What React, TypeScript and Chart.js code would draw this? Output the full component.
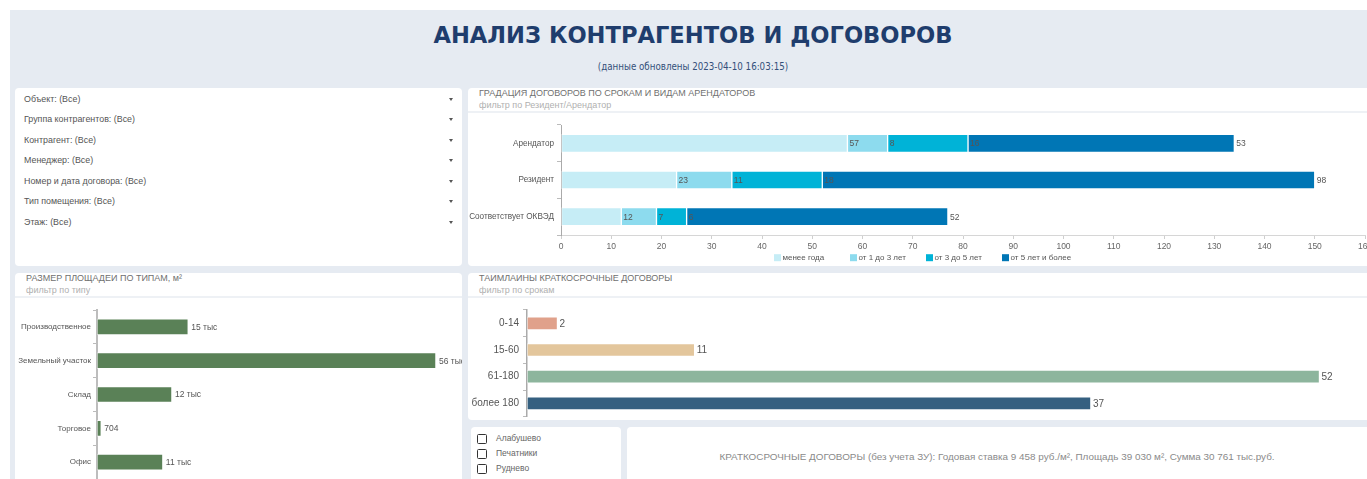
import React, { useEffect, useRef } from "react";
import { Chart, registerables } from "chart.js";

Chart.register(...registerables);

// ---------- DATA ----------
const pageTitle = "АНАЛИЗ КОНТРАГЕНТОВ И ДОГОВОРОВ";
const pageSubtitle = "(данные обновлены 2023-04-10 16:03:15)";

const filterLabels = [
  "Объект: (Все)",
  "Группа контрагентов: (Все)",
  "Контрагент: (Все)",
  "Менеджер: (Все)",
  "Номер и дата договора: (Все)",
  "Тип помещения: (Все)",
  "Этаж: (Все)",
];

const gradCategories = ["Арендатор", "Резидент", "Соответствует ОКВЭД"];
const gradSeriesNames = ["менее года", "от 1 до 3 лет", "от 3 до 5 лет", "от 5 лет и более"];
const lessThanYear = [57, 23, 12];
const oneToThreeYears = [8, 11, 7];
const threeToFiveYears = [16, 18, 6];
const fiveYearsPlus = [53, 98, 52];
const gradAxisMax = 160;
const gradAxisStep = 10;

const areaTypes = ["Производственное", "Земельный участок", "Склад", "Торговое", "Офис"];
const areaValues = [15100, 56100, 12400, 704, 10900];
const areaAxisMax = 60000;

const timelineCategories = ["0-14", "15-60", "61-180", "более 180"];
const timelineValues = [2, 11, 52, 37];
const timelineAxisMax = 55;

const objectNames = ["Алабушево", "Печатники", "Руднево"];
const summaryText =
  "КРАТКОСРОЧНЫЕ ДОГОВОРЫ (без учета ЗУ): Годовая ставка 9 458 руб./м², Площадь 39 030 м², Сумма 30 761 тыс.руб.";

// ---------- STYLE ----------
const FONT = "'Liberation Sans', Arial, sans-serif";
const gradColors = ["#c6edf6", "#8ddbee", "#00b3d7", "#0076b5"];
const areaColor = "#5a8157";
const timelineColors = ["#e0a18b", "#e3c69c", "#8db59d", "#356080"];
const BG = "#e6ebf2";

Chart.defaults.font.family = FONT;

function makeValueLabels(opts: { size: number; color: string; offset: number; formatter?: (v: number) => string }) {
  return {
    id: "valueLabels",
    afterDatasetsDraw(chart: any) {
      const ctx = chart.ctx;
      ctx.save();
      ctx.font = `${opts.size}px ${FONT}`;
      ctx.fillStyle = opts.color;
      ctx.textBaseline = "middle";
      ctx.textAlign = "left";
      chart.data.datasets.forEach((ds: any, di: number) => {
        const meta = chart.getDatasetMeta(di);
        meta.data.forEach((el: any, i: number) => {
          const v = ds.data[i] as number;
          const t = opts.formatter ? opts.formatter(v) : String(v);
          ctx.fillText(t, el.x + opts.offset, el.y + 0.5);
        });
      });
      ctx.restore();
    },
  };
}

const columnLegend = {
  id: "columnLegend",
  afterDraw(chart: any) {
    const ctx = chart.ctx;
    const n = chart.data.datasets.length;
    const colW = 76;
    const box = 7;
    const startX = chart.width / 2 - (n * colW) / 2 + 8.5;
    const y = chart.chartArea.bottom + 22.7;
    ctx.save();
    ctx.font = `8px ${FONT}`;
    ctx.textBaseline = "middle";
    ctx.textAlign = "left";
    chart.data.datasets.forEach((ds: any, i: number) => {
      const x = startX + i * colW;
      ctx.fillStyle = ds.backgroundColor;
      ctx.fillRect(x, y - box / 2, box, box);
      ctx.fillStyle = "#555";
      ctx.fillText(ds.label, x + box + 1.5, y + 0.5);
    });
    ctx.restore();
  },
};

function noPadX(s: any) {
  s.paddingLeft = 0;
  s.paddingRight = 0;
}
function noPadY(s: any) {
  s.paddingTop = 0;
  s.paddingBottom = 0;
}

function GradationChart() {
  const ref = useRef<HTMLCanvasElement>(null);
  useEffect(() => {
    const series = [lessThanYear, oneToThreeYears, threeToFiveYears, fiveYearsPlus];
    const chart = new Chart(ref.current!, {
      type: "bar",
      data: {
        labels: gradCategories,
        datasets: series.map((d, i) => ({
          label: gradSeriesNames[i],
          data: d,
          backgroundColor: gradColors[i],
          borderColor: "rgba(255,255,255,0.45)",
          borderWidth: 1,
          borderSkipped: false,
          barThickness: 18,
        })),
      },
      options: {
        indexAxis: "y",
        responsive: false,
        animation: false,
        devicePixelRatio: 1,
        layout: { padding: { top: 13, right: 2, bottom: 13, left: 0 } },
        plugins: { legend: { display: false }, tooltip: { enabled: false } },
        scales: {
          x: {
            stacked: true,
            min: 0,
            max: gradAxisMax,
            ticks: { stepSize: gradAxisStep, font: { size: 8.5 }, color: "#666", padding: 3, maxRotation: 0, autoSkip: false },
            grid: { drawOnChartArea: false, drawTicks: true, tickLength: 4, color: "#cfcfcf" },
            border: { color: "#d6d6d6" },
            afterFit(s: any) {
              noPadX(s);
              s.height = 18;
            },
          },
          y: {
            stacked: true,
            ticks: { font: { size: 8.2 }, color: "#555", padding: 3 },
            grid: { drawOnChartArea: false, drawTicks: true, tickLength: 4, color: "#bbb" },
            border: { color: "#aaa" },
            afterFit(s: any) {
              noPadY(s);
              s.width = 93;
            },
          },
        },
      } as any,
      plugins: [makeValueLabels({ size: 8.5, color: "#555", offset: 2 }), columnLegend],
    });
    return () => chart.destroy();
  }, []);
  return <canvas ref={ref} width={899} height={154} style={{ position: "absolute", left: 468, top: 112 }} />;
}

function AreaChart() {
  const ref = useRef<HTMLCanvasElement>(null);
  useEffect(() => {
    const chart = new Chart(ref.current!, {
      type: "bar",
      data: {
        labels: areaTypes,
        datasets: [
          {
            label: "Площадь, м²",
            data: areaValues,
            backgroundColor: areaColor,
            borderColor: "rgba(255,255,255,0.5)",
            borderWidth: 1,
            borderSkipped: false,
            barThickness: 16,
          },
        ],
      },
      options: {
        indexAxis: "y",
        responsive: false,
        animation: false,
        devicePixelRatio: 1,
        layout: { padding: { top: 13, right: 2.5, bottom: 0, left: 0 } },
        plugins: { legend: { display: false }, tooltip: { enabled: false } },
        scales: {
          x: {
            display: false,
            min: 0,
            max: areaAxisMax,
          },
          y: {
            ticks: { font: { size: 8 }, color: "#555", padding: 2 },
            grid: { drawOnChartArea: false, drawTicks: true, tickLength: 4, color: "#bbb" },
            border: { color: "#bdbdbd", width: 2 },
            afterFit(s: any) {
              noPadY(s);
              s.width = 82;
            },
          },
        },
      } as any,
      plugins: [
        makeValueLabels({
          size: 8.5,
          color: "#555",
          offset: 3,
          formatter: (v) => (v >= 1000 ? `${Math.round(v / 1000)} тыс` : String(v)),
        }),
      ],
    });
    return () => chart.destroy();
  }, []);
  return <canvas ref={ref} width={447} height={182} style={{ position: "absolute", left: 15, top: 297 }} />;
}

function TimelineChart() {
  const ref = useRef<HTMLCanvasElement>(null);
  useEffect(() => {
    const chart = new Chart(ref.current!, {
      type: "bar",
      data: {
        labels: timelineCategories,
        datasets: [
          {
            label: "Договоры",
            data: timelineValues,
            backgroundColor: timelineColors,
            borderColor: "rgba(255,255,255,0.5)",
            borderWidth: 1,
            borderSkipped: false,
            barThickness: 13,
          },
        ],
      },
      options: {
        indexAxis: "y",
        responsive: false,
        animation: false,
        devicePixelRatio: 1,
        layout: { padding: { top: 13, right: 1.8, bottom: 3.3, left: 0 } },
        plugins: { legend: { display: false }, tooltip: { enabled: false } },
        scales: {
          x: {
            display: false,
            min: 0,
            max: timelineAxisMax,
          },
          y: {
            ticks: { font: { size: 10 }, color: "#555", padding: 4 },
            grid: { drawOnChartArea: false, drawTicks: true, tickLength: 4, color: "#bbb" },
            border: { color: "#aaa", width: 1.5 },
            afterFit(s: any) {
              noPadY(s);
              s.width = 59;
            },
          },
        },
      } as any,
      plugins: [makeValueLabels({ size: 10, color: "#555", offset: 2 })],
    });
    return () => chart.destroy();
  }, []);
  return <canvas ref={ref} width={899} height={123} style={{ position: "absolute", left: 468, top: 297 }} />;
}

const panel = (left: number, top: number, width: number, height: number): React.CSSProperties => ({
  position: "absolute",
  left,
  top,
  width,
  height,
  background: "#fff",
  borderRadius: 4,
});

function PanelHeader({ left, top, width, title, subtitle }: { left: number; top: number; width: number; title: string; subtitle: string }) {
  return (
    <>
      <div style={{ position: "absolute", left: left + 11, top: top - 0.5, fontSize: 9, lineHeight: "11px", color: "#707070", whiteSpace: "nowrap" }}>
        {title}
      </div>
      <div style={{ position: "absolute", left: left + 11, top: top + 11.5, fontSize: 9, lineHeight: "11px", color: "#b0b0b0", whiteSpace: "nowrap" }}>
        {subtitle}
      </div>
      <div style={{ position: "absolute", left, top: top + 23, width, height: 2, background: "#eef1f5" }} />
    </>
  );
}

export default function App() {
  return (
    <div
      style={{
        position: "absolute",
        left: 0,
        top: 0,
        width: 1367,
        height: 479,
        overflow: "hidden",
        background: "#fff",
        fontFamily: FONT,
      }}
    >
      <div style={{ position: "absolute", left: 10, top: 10, right: 0, bottom: 0, background: BG }} />
      <div
        style={{
          position: "absolute",
          left: 19,
          width: 1348,
          top: 24,
          textAlign: "center",
          fontFamily: "'DejaVu Sans', Verdana, sans-serif",
          fontWeight: "bold",
          fontSize: 22.6,
          lineHeight: "23px",
          color: "#1f3d6d",
          whiteSpace: "nowrap",
        }}
      >
        {pageTitle}
      </div>
      <div
        style={{
          position: "absolute",
          left: 19,
          width: 1348,
          top: 61,
          textAlign: "center",
          fontFamily: "'DejaVu Sans Condensed', 'DejaVu Sans', sans-serif",
          fontSize: 9.7,
          lineHeight: "11px",
          color: "#34507a",
          whiteSpace: "nowrap",
        }}
      >
        {pageSubtitle}
      </div>

      {/* Filter panel */}
      <div style={panel(15, 88, 447, 178)} />
      {filterLabels.map((t, i) => (
        <React.Fragment key={t}>
          <div
            style={{
              position: "absolute",
              left: 24,
              top: 93 + i * 20.45,
              fontSize: 8.9,
              lineHeight: "12px",
              color: "#555",
              whiteSpace: "nowrap",
            }}
          >
            {t}
          </div>
          <div
            style={{
              position: "absolute",
              left: 449,
              top: 98 + i * 20.45,
              width: 0,
              height: 0,
              borderLeft: "2.5px solid transparent",
              borderRight: "2.5px solid transparent",
              borderTop: "3px solid #555",
            }}
          />
        </React.Fragment>
      ))}

      {/* Gradation panel */}
      <div style={panel(468, 88, 905, 178)} />
      <PanelHeader left={468} top={88} width={899} title="ГРАДАЦИЯ ДОГОВОРОВ ПО СРОКАМ И ВИДАМ АРЕНДАТОРОВ" subtitle="фильтр по Резидент/Арендатор" />
      <GradationChart />

      {/* Area panel */}
      <div style={panel(15, 273, 447, 215)} />
      <PanelHeader left={15} top={273} width={447} title="РАЗМЕР ПЛОЩАДЕИ ПО ТИПАМ, м²" subtitle="фильтр по типу" />
      <AreaChart />

      {/* Timeline panel */}
      <div style={panel(468, 273, 905, 147)} />
      <PanelHeader left={468} top={273} width={899} title="ТАИМЛАИНЫ КРАТКОСРОЧНЫЕ ДОГОВОРЫ" subtitle="фильтр по срокам" />
      <TimelineChart />

      {/* Objects checkbox panel */}
      <div style={panel(471, 427, 150, 60)} />
      {objectNames.map((n, i) => (
        <React.Fragment key={n}>
          <div
            style={{
              position: "absolute",
              left: 477,
              top: 433.5 + i * 15,
              width: 8,
              height: 8,
              border: "1.5px solid #333",
              borderRadius: 1.5,
            }}
          />
          <div
            style={{
              position: "absolute",
              left: 496,
              top: 433 + i * 15,
              fontSize: 8.5,
              lineHeight: "11px",
              color: "#666",
              whiteSpace: "nowrap",
            }}
          >
            {n}
          </div>
        </React.Fragment>
      ))}

      {/* Summary panel */}
      <div style={panel(627, 427, 745, 60)} />
      <div
        style={{
          position: "absolute",
          left: 627,
          width: 740,
          top: 451,
          textAlign: "center",
          fontSize: 9.9,
          lineHeight: "12px",
          color: "#8a8a8a",
          whiteSpace: "nowrap",
        }}
      >
        {summaryText}
      </div>
    </div>
  );
}
